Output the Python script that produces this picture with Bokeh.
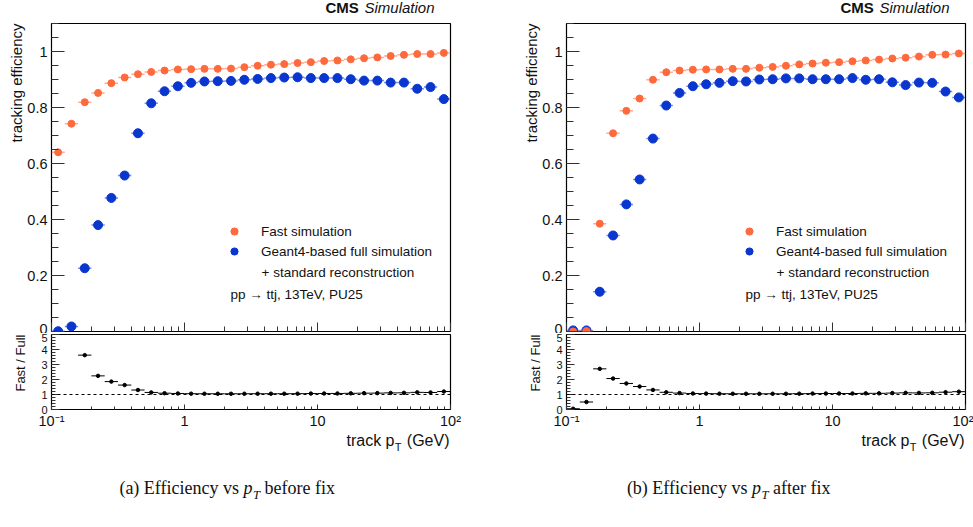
import numpy as np
from bokeh.plotting import figure
from bokeh.models import (ColumnDataSource, FixedTicker, NumeralTickFormatter, Label,
                          Legend, LegendItem, Span, CustomJSTickFormatter, Title)
from bokeh.layouts import row, column
from bokeh.embed import file_html
from bokeh.resources import INLINE

# track pT binning: 30 bins, 0.1 decade wide, from 0.1 to 100 GeV
pt_edges = np.logspace(-1, 2, 31)

# tracking efficiency per pT bin, before the fix
eff_fast_before = [0.640, 0.742, 0.819, 0.852, 0.887, 0.907, 0.919, 0.927, 0.932, 0.936,
                   0.937, 0.938, 0.938, 0.939, 0.944, 0.949, 0.953, 0.955, 0.959, 0.962,
                   0.966, 0.968, 0.972, 0.976, 0.979, 0.984, 0.988, 0.991, 0.991, 0.995]
eff_full_before = [0.001, 0.018, 0.226, 0.380, 0.477, 0.557, 0.708, 0.815, 0.858, 0.876,
                   0.888, 0.893, 0.894, 0.895, 0.899, 0.902, 0.905, 0.907, 0.908, 0.905,
                   0.905, 0.905, 0.901, 0.896, 0.896, 0.889, 0.889, 0.867, 0.873, 0.830]

# tracking efficiency per pT bin, after the fix
eff_fast_after = [0.0002, 0.002, 0.385, 0.708, 0.788, 0.832, 0.899, 0.926, 0.932, 0.935,
                  0.936, 0.936, 0.938, 0.938, 0.942, 0.945, 0.949, 0.954, 0.957, 0.960,
                  0.962, 0.965, 0.968, 0.971, 0.975, 0.978, 0.982, 0.988, 0.989, 0.993]
eff_full_after = [0.004, 0.004, 0.142, 0.343, 0.454, 0.543, 0.689, 0.807, 0.852, 0.876,
                  0.883, 0.888, 0.894, 0.893, 0.900, 0.901, 0.904, 0.904, 0.901, 0.901,
                  0.901, 0.905, 0.899, 0.901, 0.890, 0.880, 0.889, 0.888, 0.857, 0.836]

# axis ticks and labels
x_major = [0.1, 1, 10, 100]
x_tick_labels = ["10\u207b\u00b9", "1", "10", "10\u00b2"]
x_minor = [0.2, 0.3, 0.4, 0.5, 0.6, 0.7, 0.8, 0.9,
           2, 3, 4, 5, 6, 7, 8, 9,
           20, 30, 40, 50, 60, 70, 80, 90]
eff_major = [0, 0.2, 0.4, 0.6, 0.8, 1.0]
eff_minor = [round(0.05 * i, 2) for i in range(23)]
ratio_major = [0, 1, 2, 3, 4, 5]
ratio_minor = [round(0.2 * i, 1) for i in range(26)]

legend_fast = "Fast simulation"
legend_full = "Geant4-based full simulation"
legend_full2 = "+ standard reconstruction"
process_text = "pp \u2192 ttj, 13TeV, PU25"

ORANGE = "#ff6a3d"
BLUE = "#0a36d0"
FONT = "Liberation Sans"
SERIF = "Liberation Serif"
TXT = "#111111"
TICK = "#333333"


def style_axis(ax, major_in, minor_in, size, standoff):
    ax.major_tick_in = major_in
    ax.major_tick_out = 0
    ax.minor_tick_in = minor_in
    ax.minor_tick_out = 0
    ax.major_tick_line_color = TICK
    ax.minor_tick_line_color = TICK
    ax.axis_line_color = None
    ax.major_label_text_font = FONT
    ax.major_label_text_font_size = size
    ax.major_label_text_color = TXT
    ax.major_label_standoff = standoff


def label(p, x, y, text, size, **kw):
    p.add_layout(Label(x=x, y=y, x_units="screen", y_units="screen", text=text,
                       text_font=kw.pop("font", FONT), text_font_size=size,
                       text_color=TXT, **kw))


def blank(width, height, border_right):
    p = figure(width=width, height=height, x_range=(0, 1), y_range=(0, 1),
               output_backend="svg", toolbar_location=None,
               min_border_left=50, min_border_right=border_right,
               min_border_top=0, min_border_bottom=0,
               x_axis_location=None, y_axis_location=None)
    p.grid.visible = False
    p.outline_line_color = None
    return p


def make_column(fast, full, width, border_right, tag, caption_rest, caption_x0):
    fast = np.array(fast)
    full = np.array(full)
    lo = pt_edges[:-1]
    hi = pt_edges[1:]
    centre = np.sqrt(lo * hi)
    src = ColumnDataSource(dict(lo=lo, hi=hi, x=centre, fast=fast, full=full))

    # header strip with the experiment tag
    head = blank(width, 22, border_right)
    label(head, 274, 7, "CMS", "15px", text_font_style="bold")
    label(head, 313, 7, "Simulation", "15px", text_font_style="italic")

    # efficiency panel
    top = figure(width=width, height=311, x_axis_type="log", x_range=(0.1, 100),
                 y_range=(0, 1.1), output_backend="svg", toolbar_location=None,
                 min_border_left=50, min_border_right=border_right,
                 min_border_top=1, min_border_bottom=2)
    top.grid.visible = False
    top.outline_line_color = "black"
    top.outline_line_width = 1.2
    top.xaxis.ticker = FixedTicker(ticks=x_major, minor_ticks=x_minor)
    top.xaxis.formatter = CustomJSTickFormatter(code="return ''")
    style_axis(top.xaxis[0], 9, 5, "1px", 0)
    top.yaxis.ticker = FixedTicker(ticks=eff_major, minor_ticks=eff_minor)
    top.yaxis.formatter = NumeralTickFormatter(format="0.[0]")
    style_axis(top.yaxis[0], 13, 7, "14.5px", 4)
    top.add_layout(Title(text="tracking efficiency", align="right", standoff=0,
                         text_font=FONT, text_font_size="15px",
                         text_font_style="normal", text_color=TXT), "left")

    top.segment(x0="lo", y0="full", x1="hi", y1="full", source=src,
                line_color=BLUE, line_alpha=0.55, line_width=1.5)
    r_full = top.scatter("x", "full", source=src, size=9, fill_color=BLUE,
                         line_color=BLUE)
    top.segment(x0="lo", y0="fast", x1="hi", y1="fast", source=src,
                line_color=ORANGE, line_alpha=0.55, line_width=1.5)
    r_fast = top.scatter("x", "fast", source=src, size=7, fill_color=ORANGE,
                         line_color=ORANGE)

    legend = Legend(items=[LegendItem(label=legend_fast, renderers=[r_fast]),
                           LegendItem(label=legend_full, renderers=[r_full])],
                    location=(174, 71), glyph_width=18, glyph_height=18,
                    label_height=18, spacing=2, label_standoff=18, padding=0,
                    margin=0, border_line_color=None, background_fill_alpha=0,
                    label_text_font=FONT, label_text_font_size="13.5px",
                    label_text_color=TXT)
    top.add_layout(legend)
    label(top, 210, 58.7, legend_full2, "13.5px", text_baseline="middle")
    label(top, 179, 37.3, process_text, "13.5px", text_baseline="middle")

    # ratio panel
    ratio = np.divide(fast, full)
    keep = ratio <= 5
    rsrc = ColumnDataSource(dict(lo=lo[keep], hi=hi[keep], x=centre[keep], r=ratio[keep]))
    rp = figure(width=width, height=98, x_axis_type="log", x_range=(0.1, 100),
                y_range=(0, 5), output_backend="svg", toolbar_location=None,
                min_border_left=50, min_border_right=border_right,
                min_border_top=1, min_border_bottom=20)
    rp.grid.visible = False
    rp.outline_line_color = "black"
    rp.outline_line_width = 1.2
    rp.xaxis.ticker = FixedTicker(ticks=x_major, minor_ticks=x_minor)
    rp.xaxis.major_label_overrides = dict(zip(x_major, x_tick_labels))
    style_axis(rp.xaxis[0], 5, 3, "14.5px", 3)
    rp.yaxis.ticker = FixedTicker(ticks=ratio_major, minor_ticks=ratio_minor)
    rp.yaxis.formatter = NumeralTickFormatter(format="0")
    style_axis(rp.yaxis[0], 8, 4, "11px", 4)
    rp.add_layout(Title(text="Fast / Full", align="right", standoff=21,
                        text_font=FONT, text_font_size="13px",
                        text_font_style="normal", text_color=TXT), "left")

    rp.add_layout(Span(location=1, dimension="width", line_color="black",
                       line_dash="3 3", line_width=1))
    rp.segment(x0="lo", y0="r", x1="hi", y1="r", source=rsrc, line_color="black",
               line_width=1)
    rp.scatter("x", "r", source=rsrc, size=3.5, fill_color="black", line_color="black")

    # footer: x-axis title "track p_T (GeV)" and the caption
    foot = blank(width, 96, border_right)
    label(foot, 398, 79, "(GeV)", "16px", text_align="right")
    label(foot, 350, 75, "T", "11px", text_align="right")
    label(foot, 343, 79, "track p", "16px", text_align="right")

    label(foot, caption_x0 - 4.5, 30, tag + " Efficiency vs", "18px", font=SERIF,
          text_align="right")
    label(foot, caption_x0, 30, "p", "18px", font=SERIF, text_font_style="italic")
    label(foot, caption_x0 + 9.5, 26, "T", "12.6px", font=SERIF, text_font_style="italic")
    label(foot, caption_x0 + 21, 30, caption_rest, "18px", font=SERIF)

    return column(head, top, rp, foot)


left = make_column(eff_fast_before, eff_full_before, 515, 65, "(a)", "before fix", 192)
right = make_column(eff_fast_after, eff_full_after, 458, 8, "(b)", "after fix", 185.5)
page = row(left, right)

open("out.html", "w").write(file_html(page, INLINE))
